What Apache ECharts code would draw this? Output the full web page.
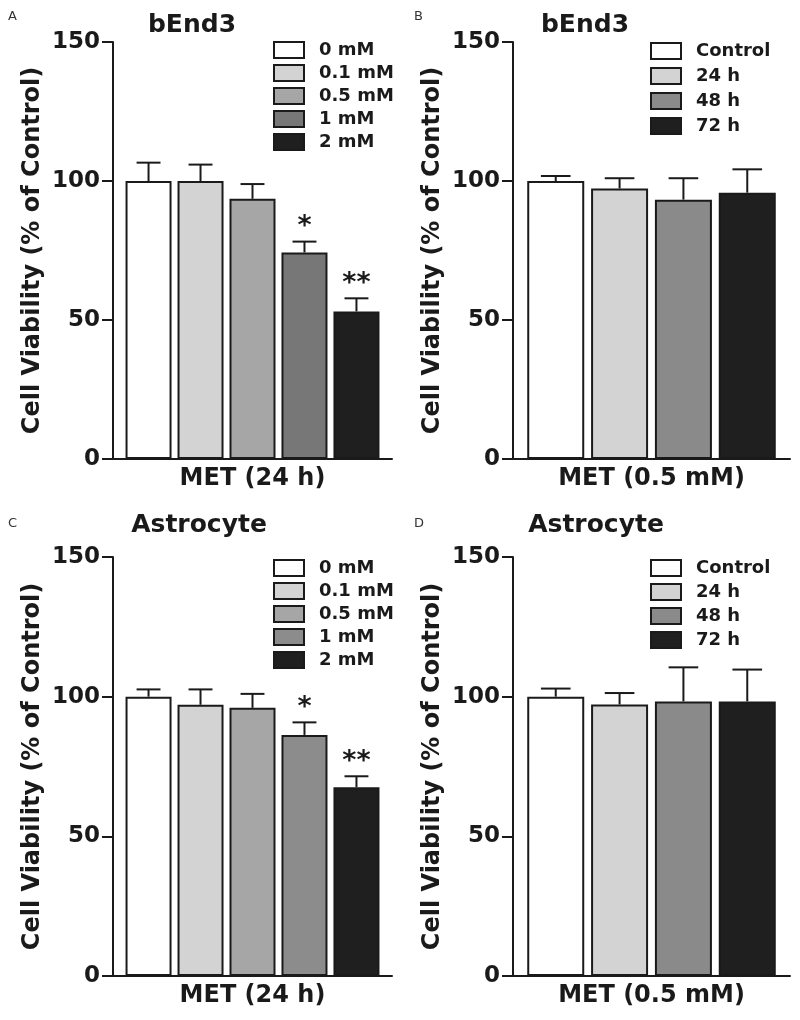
<!DOCTYPE html>
<html>
<head>
<meta charset="utf-8">
<script src="https://cdn.jsdelivr.net/npm/echarts@6/dist/echarts.min.js"></script>
<style>
html,body{margin:0;padding:0;background:#fff;}
#chart{width:800px;height:1020px;}
</style>
</head>
<body>
<div id="chart"></div>
<script>
// ---------- data ----------
const doseNames = ['0 mM', '0.1 mM', '0.5 mM', '1 mM', '2 mM'];
const timeNames = ['Control', '24 h', '48 h', '72 h'];
const yTicks = [0, 50, 100, 150];

const bEnd3DoseMean = [100, 100, 93.6, 74.3, 53.1];
const bEnd3DoseErr  = [6.6, 5.9, 5.3, 3.9, 4.7];
const bEnd3DoseSig  = ['', '', '', '*', '**'];

const bEnd3TimeMean = [100, 97.3, 93.3, 95.8];
const bEnd3TimeErr  = [1.8, 3.7, 7.7, 8.4];

const astroDoseMean = [100, 97.1, 96.0, 86.3, 67.6];
const astroDoseErr  = [2.6, 5.5, 5.0, 4.5, 3.9];
const astroDoseSig  = ['', '', '', '*', '**'];

const astroTimeMean = [100, 97.2, 98.3, 98.3];
const astroTimeErr  = [2.9, 4.1, 12.2, 11.4];
const noSig = ['', '', '', ''];

// ---------- styles ----------
const FONT = '"DejaVu Sans", "Liberation Sans", Arial, sans-serif';
const INK = '#1a1a1a';
const colorsA = ['#ffffff', '#d3d3d3', '#a6a6a6', '#777777', '#1f1f1f'];
const colorsC = ['#ffffff', '#d3d3d3', '#a6a6a6', '#8c8c8c', '#1f1f1f'];
const colorsT = ['#ffffff', '#d3d3d3', '#8a8a8a', '#1f1f1f'];

const panels = [
  {key: 'A', title: 'bEnd3', xname: 'MET (24 h)', names: doseNames, mean: bEnd3DoseMean, err: bEnd3DoseErr, sig: bEnd3DoseSig, colors: colorsA,
   grid: {left: 113, top: 42, width: 279, height: 417}, barW: 46, gap: 0.13,
   legend: {left: 273, top: 41, itemGap: 5}, titleX: 192, titleY: 25, letterX: 8, letterY: 18},
  {key: 'B', title: 'bEnd3', xname: 'MET (0.5 mM)', names: timeNames, mean: bEnd3TimeMean, err: bEnd3TimeErr, sig: noSig, colors: colorsT,
   grid: {left: 513, top: 42, width: 277, height: 417}, barW: 57, gap: 0.12,
   legend: {left: 650, top: 42, itemGap: 7}, titleX: 585, titleY: 25, letterX: 414, letterY: 18},
  {key: 'C', title: 'Astrocyte', xname: 'MET (24 h)', names: doseNames, mean: astroDoseMean, err: astroDoseErr, sig: astroDoseSig, colors: colorsC,
   grid: {left: 113, top: 557, width: 279, height: 419}, barW: 46, gap: 0.13,
   legend: {left: 273, top: 559, itemGap: 5}, titleX: 199, titleY: 525, letterX: 8, letterY: 525},
  {key: 'D', title: 'Astrocyte', xname: 'MET (0.5 mM)', names: timeNames, mean: astroTimeMean, err: astroTimeErr, sig: noSig, colors: colorsT,
   grid: {left: 513, top: 557, width: 277, height: 419}, barW: 57, gap: 0.12,
   legend: {left: 650, top: 559, itemGap: 6}, titleX: 596, titleY: 525, letterX: 414, letterY: 525}
];

const grids = [], xAxes = [], yAxes = [], series = [], legends = [], graphics = [];

panels.forEach((p, gi) => {
  grids.push(Object.assign({containLabel: false}, p.grid));
  xAxes.push({
    type: 'category', gridIndex: gi, data: [''],
    axisLine: {lineStyle: {color: INK, width: 2}},
    axisTick: {show: false}, axisLabel: {show: false},
    name: p.xname, nameLocation: 'middle', nameGap: 8,
    nameTextStyle: {fontFamily: FONT, fontWeight: 'bold', fontSize: 24, color: INK, verticalAlign: 'top'}
  });
  yAxes.push({
    type: 'value', gridIndex: gi, min: 0, max: 150, interval: 50,
    splitLine: {show: false},
    axisLine: {show: true, lineStyle: {color: INK, width: 2}},
    axisTick: {show: true, length: 11, lineStyle: {color: INK, width: 2}},
    axisLabel: {fontFamily: FONT, fontWeight: 'bold', fontSize: 23, color: INK, margin: 13,
      formatter: v => yTicks.indexOf(v) >= 0 ? String(v) : ''},
    name: 'Cell Viability (% of Control)', nameLocation: 'middle', nameGap: 68,
    nameTextStyle: {fontFamily: FONT, fontWeight: 'bold', fontSize: 24, color: INK}
  });
  const legendData = [];
  p.names.forEach((nm, i) => {
    const sname = p.key + '|' + nm;
    legendData.push(sname);
    series.push({
      type: 'bar', name: sname, xAxisIndex: gi, yAxisIndex: gi,
      data: [p.mean[i]], barWidth: p.barW, barGap: Math.round(p.gap * 100) + '%',
      itemStyle: {color: p.colors[i], borderColor: INK, borderWidth: 2},
      z: 2, silent: true
    });
  });
  const W = p.barW, G = p.barW * p.gap, n = p.names.length, sig = p.sig;
  series.push({
    type: 'custom', xAxisIndex: gi, yAxisIndex: gi, z: 3, silent: true,
    data: p.mean.map((m, i) => [0, m, m + p.err[i], i]),
    encode: {x: 0, y: 1},
    renderItem: function (params, api) {
      const i = api.value(3);
      const base = api.coord([0, api.value(1)]);
      const topPt = api.coord([0, api.value(2)]);
      const total = n * W + (n - 1) * G;
      const cx = base[0] - total / 2 + i * (W + G) + W / 2;
      const cap = W * 0.52;
      const children = [
        {type: 'line', shape: {x1: cx, y1: base[1], x2: cx, y2: topPt[1]}, style: {stroke: INK, lineWidth: 2}},
        {type: 'line', shape: {x1: cx - cap / 2, y1: topPt[1], x2: cx + cap / 2, y2: topPt[1]}, style: {stroke: INK, lineWidth: 2}}
      ];
      if (sig[i]) {
        children.push({type: 'text', style: {text: sig[i], x: cx, y: topPt[1] - 1, textAlign: 'center', textVerticalAlign: 'bottom',
          font: 'bold 27px ' + FONT, fill: INK}});
      }
      return {type: 'group', children: children};
    }
  });
  legends.push({
    data: legendData, orient: 'vertical', left: p.legend.left, top: p.legend.top, padding: 0,
    itemWidth: 30, itemHeight: 16, itemGap: p.legend.itemGap, selectedMode: false,
    icon: 'rect',
    itemStyle: {borderColor: INK, borderWidth: 2},
    formatter: nm => nm.split('|')[1],
    textStyle: {fontFamily: FONT, fontWeight: 'bold', fontSize: 18, color: INK, padding: [0, 0, 0, 10]}
  });
  graphics.push({type: 'text', left: p.letterX, top: p.letterY - 8,
    style: {text: p.key, font: '13px ' + FONT, fill: '#333'}});
  graphics.push({type: 'text', x: p.titleX, y: p.titleY,
    style: {text: p.title, font: 'bold 25px ' + FONT, fill: INK, textAlign: 'center', textVerticalAlign: 'middle'}});
});

const chart = echarts.init(document.getElementById('chart'), null, {renderer: 'canvas'});
chart.setOption({
  animation: false,
  backgroundColor: '#ffffff',
  grid: grids, xAxis: xAxes, yAxis: yAxes, series: series, legend: legends, graphic: graphics
});
</script>
</body>
</html>
